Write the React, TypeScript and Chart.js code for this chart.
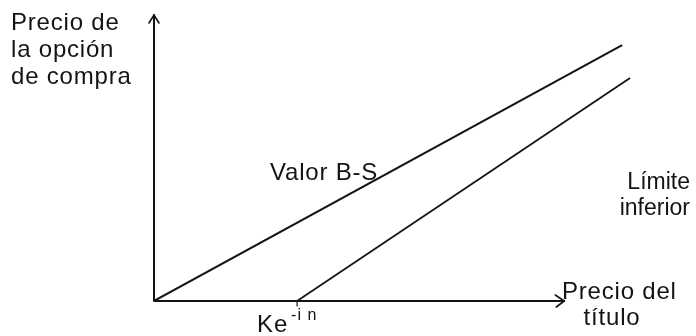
import React, { useEffect, useRef } from "react";
import { Chart, registerables } from "chart.js";

Chart.register(...registerables);

// ---- data (chart units) ----
const bsPriceX = [0, 89];
const bsValueY = [0, 89.5];
const boundPriceX = [27.2, 90.5];
const boundValueY = [0, 78];
const strikePV = 27.2; // Ke^{-i n}
const xAxisEnd = 78;
const yAxisEnd = 100;

const yTitleLines = ["Precio de", "la opción", "de compra"];
const xTitleLines = ["Precio del", "título"];
const bsLabel = "Valor B-S";
const boundLines = ["Límite", "inferior"];
const strikeLabel = "Ke";
const strikeSup = "-i n";

const INK = "#141414";
const FONT = '"Liberation Sans", Arial, Helvetica, sans-serif';

const overlay = {
  id: "overlay",
  afterDraw(chart: any) {
    const ctx = chart.ctx as CanvasRenderingContext2D;
    const xs = chart.scales.x;
    const ys = chart.scales.y;
    const ox = xs.getPixelForValue(0);
    const oy = ys.getPixelForValue(0);
    const xEnd = xs.getPixelForValue(xAxisEnd);
    const yTop = ys.getPixelForValue(yAxisEnd);

    ctx.save();
    ctx.strokeStyle = INK;
    ctx.lineCap = "round";
    ctx.lineJoin = "round";
    // axes
    ctx.lineWidth = 2;
    ctx.beginPath();
    ctx.moveTo(ox, oy);
    ctx.lineTo(ox, yTop);
    ctx.moveTo(ox, oy);
    ctx.lineTo(xEnd, oy);
    ctx.stroke();
    // arrowheads
    ctx.lineWidth = 1.6;
    ctx.beginPath();
    ctx.moveTo(ox - 5, yTop + 8);
    ctx.lineTo(ox, yTop);
    ctx.lineTo(ox + 5, yTop + 8);
    ctx.moveTo(xEnd - 9, oy - 6);
    ctx.lineTo(xEnd, oy);
    ctx.lineTo(xEnd - 8, oy + 6);
    ctx.stroke();
    // strike tick
    const kx = xs.getPixelForValue(strikePV);
    ctx.lineWidth = 1.2;
    ctx.beginPath();
    ctx.moveTo(kx, oy);
    ctx.lineTo(kx, oy + 5);
    ctx.stroke();

    // text
    ctx.fillStyle = INK;
    ctx.textBaseline = "alphabetic";
    (ctx as any).letterSpacing = "0.8px";
    ctx.font = `24px ${FONT}`;
    ctx.textAlign = "left";
    const yBase = [30, 57, 84];
    yTitleLines.forEach((t, i) => ctx.fillText(t, 11, yBase[i]));

    ctx.fillText(bsLabel, 270, 180);

    ctx.textAlign = "left";
    ctx.fillText(xTitleLines[0], 562, 299);
    ctx.textAlign = "center";
    ctx.fillText(xTitleLines[1], 612, 325);

    ctx.textAlign = "left";
    ctx.fillText(strikeLabel, kx - 40, 332);

    (ctx as any).letterSpacing = "0px";
    ctx.font = `23px ${FONT}`;
    ctx.textAlign = "right";
    ctx.fillText(boundLines[0], 690, 189);
    ctx.fillText(boundLines[1], 690, 215);

    (ctx as any).letterSpacing = "1px";
    ctx.font = `16px ${FONT}`;
    ctx.textAlign = "left";
    ctx.fillText(strikeSup, kx - 6, 320);
    ctx.restore();
  },
};

export default function App() {
  const ref = useRef<HTMLCanvasElement | null>(null);
  useEffect(() => {
    document.body.style.margin = "0";
    const canvas = ref.current!;
    const chart = new Chart(canvas, {
      type: "scatter",
      data: {
        datasets: [
          {
            label: bsLabel,
            data: bsPriceX.map((x, i) => ({ x, y: bsValueY[i] })),
            showLine: true,
            borderColor: INK,
            borderWidth: 2,
            pointRadius: 0,
          },
          {
            label: boundLines.join(" "),
            data: boundPriceX.map((x, i) => ({ x, y: boundValueY[i] })),
            showLine: true,
            borderColor: INK,
            borderWidth: 1.8,
            pointRadius: 0,
          },
        ],
      },
      options: {
        animation: false,
        responsive: false,
        maintainAspectRatio: false,
        layout: { padding: { left: 154, top: 15, right: 16, bottom: 35 } },
        plugins: { legend: { display: false }, tooltip: { enabled: false } },
        scales: {
          x: { type: "linear", min: 0, max: 100, display: false },
          y: { type: "linear", min: 0, max: 100, display: false },
        },
      },
      plugins: [overlay],
    });
    return () => chart.destroy();
  }, []);
  return (
    <div style={{ width: 696, height: 336, background: "#fff" }}>
      <canvas ref={ref} width={696} height={336} style={{ display: "block" }} />
    </div>
  );
}
